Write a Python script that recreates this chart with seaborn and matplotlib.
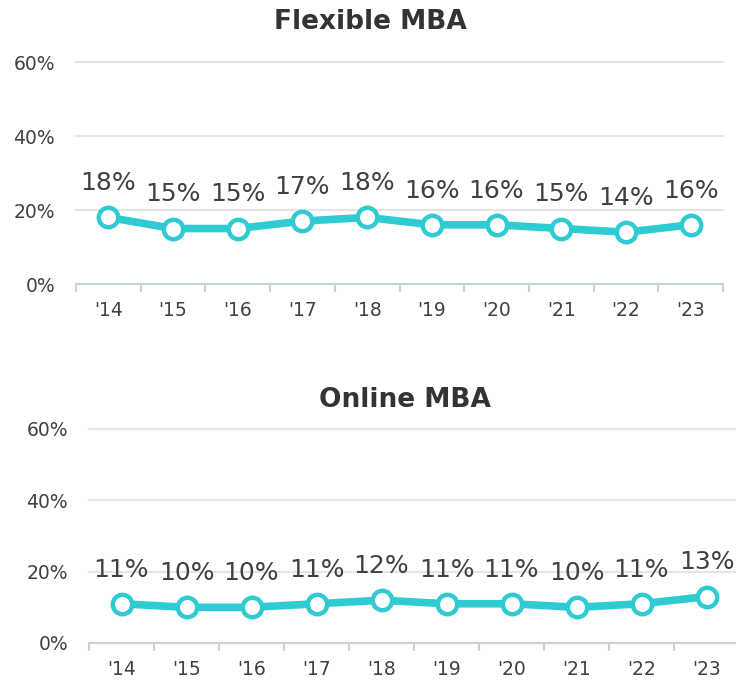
import matplotlib
matplotlib.use("Agg")
import matplotlib.pyplot as plt
import seaborn as sns
import pandas as pd
from matplotlib.ticker import FixedLocator, FuncFormatter

years = ["'14", "'15", "'16", "'17", "'18", "'19", "'20", "'21", "'22", "'23"]
flexible = [18, 15, 15, 17, 18, 16, 16, 15, 14, 16]
online = [11, 10, 10, 11, 12, 11, 11, 10, 11, 13]
titles = ["Flexible MBA", "Online MBA"]
yticks = [0, 20, 40, 60]

sns.set_theme(style="white")
plt.rcParams['font.family'] = ['DejaVu Sans']

TEAL = "#2ECBD2"
TXT = "#404040"

fig = plt.figure(figsize=(7.36, 6.81), dpi=100)
W, H = 736, 681

def px_axes(left, top, right, bottom):
    return fig.add_axes([left / W, 1 - bottom / H, (right - left) / W, (bottom - top) / H])

ax1 = px_axes(76, 62, 723, 284)
ax2 = px_axes(89, 429, 739, 643)

for ax, vals, title in [(ax1, flexible, titles[0]), (ax2, online, titles[1])]:
    df = pd.DataFrame({"year": years, "value": vals})
    sns.lineplot(data=df, x="year", y="value", ax=ax, color=TEAL, linewidth=5.5,
                 marker="o", markersize=14, markerfacecolor="white",
                 markeredgecolor=TEAL, markeredgewidth=3.2, sort=False, zorder=3)
    for i, v in enumerate(vals):
        ax.annotate(f"{v}%", (i, v), xytext=(0, 16), textcoords="offset points",
                    ha="center", va="bottom", fontsize=18, color=TXT)
    ax.set_xlim(-0.5, len(years) - 0.5)
    ax.set_ylim(0, 60)
    ax.set_yticks(yticks)
    ax.yaxis.set_major_formatter(FuncFormatter(lambda v, p: f"{int(v)}%"))
    ax.grid(axis="y", color="#E4E4E4", linewidth=1.5, zorder=0)
    ax.grid(axis="x", visible=False)
    for gl in ax.get_ygridlines():
        gl.set_clip_on(False)
    ax.set_xlabel("")
    ax.set_ylabel("")
    for s in ["top", "right", "left"]:
        ax.spines[s].set_visible(False)
    ax.spines["bottom"].set_color("#C9D2D2")
    ax.spines["bottom"].set_linewidth(1.5)
    ax.spines["bottom"].set_zorder(2)
    ax.tick_params(axis="y", length=0, pad=15, labelsize=13.5, labelcolor=TXT)
    ax.tick_params(axis="x", which="major", length=0, pad=12, labelsize=13.5, labelcolor=TXT)
    ax.xaxis.set_minor_locator(FixedLocator([i - 0.5 for i in range(len(years) + 1)]))
    ax.tick_params(axis="x", which="minor", bottom=True, length=6, width=1.5,
                   color="#C9D2D2", direction="out")
    ax.set_axisbelow(True)

fig.text(370 / W, 1 - 22 / H, titles[0], ha="center", va="center",
         fontsize=19, fontweight="bold", color="#333333")
fig.text(405 / W, 1 - 400 / H, titles[1], ha="center", va="center",
         fontsize=19, fontweight="bold", color="#333333")

fig.savefig("out.png", dpi=100, facecolor="white")
